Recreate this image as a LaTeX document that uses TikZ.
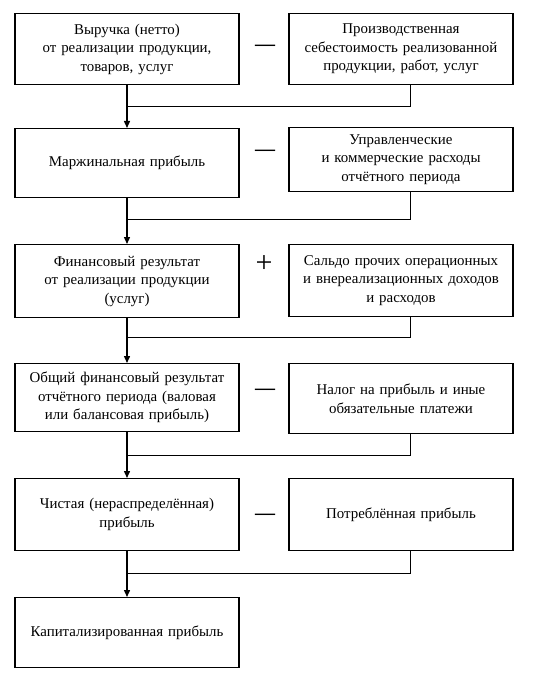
\documentclass[tikz,border=0pt]{standalone}
\usepackage{fontspec}
\setmainfont{Liberation Serif}
\usepackage{tikz}
\usetikzlibrary{
  arrows.meta,
  positioning,
  calc,
}
\definecolor{lineInk}{HTML}{000000}
\tikzset{
  stepbox/.style={
    rectangle, draw=lineInk, line width=1.3pt, anchor=north,
    minimum width=224pt, text width=216pt, align=center,
    inner sep=4pt, font=\fontsize{14.9}{18.5}\selectfont,
  },
  opsign/.style={
    font=\fontsize{20}{20}\selectfont\bfseries, inner sep=0pt,
  },
  arrowMain/.style={
    -{Triangle[length=7pt,width=6pt]}, line width=1.4pt, draw=lineInk,
  },
  feedLine/.style={
    line width=0.9pt, draw=lineInk,
  },
}

\begin{document}
\begin{tikzpicture}[x=1pt, y=-1pt]
\useasboundingbox (0,0) rectangle (548,679);
% left column
\node[stepbox, minimum height=71pt] (rev) at (127,13)
  {Выручка (нетто)\\ от реализации продукции,\\ товаров, услуг};
\node[stepbox, minimum height=69pt] (marg) at (127,128)
  {Маржинальная прибыль};
\node[stepbox, minimum height=73pt] (sales) at (127,244)
  {Финансовый результат\\ от реализации продукции\\ (услуг)};
\node[stepbox, minimum height=68pt] (gross) at (127,363)
  {Общий финансовый результат\\ отчётного периода (валовая\\ или балансовая прибыль)};
\node[stepbox, minimum height=72pt] (net) at (127,478)
  {Чистая (нераспределённая)\\ прибыль};
\node[stepbox, minimum height=70pt] (cap) at (127,597)
  {Капитализированная прибыль};
% right column
\node[stepbox, minimum height=71pt] (cost) at (401,13)
  {Производственная\\ себестоимость реализованной\\ продукции, работ, услуг};
\node[stepbox, minimum height=64pt] (admin) at (401,127)
  {Управленческие\\ и коммерческие расходы\\ отчётного периода};
\node[stepbox, minimum height=72pt] (other) at (401,244)
  {Сальдо прочих операционных\\ и внереализационных доходов\\ и расходов};
\node[stepbox, minimum height=70pt] (tax) at (401,363)
  {Налог на прибыль и иные\\ обязательные платежи};
\node[stepbox, minimum height=72pt] (used) at (401,478)
  {Потреблённая прибыль};
% signs
\node[opsign] (op1) at (265,48) {---};
\node[opsign] (op2) at (265,153) {---};
\node[opsign, font=\fontsize{30}{30}\selectfont] (op3) at (264,264) {+};
\node[opsign] (op4) at (265,392) {---};
\node[opsign] (op5) at (265,517) {---};
% junctions
\coordinate (j1) at (127,106);
\coordinate (j2) at (127,219);
\coordinate (j3) at (127,337);
\coordinate (j4) at (127,455);
\coordinate (j5) at (127,573);
% connectors
\draw[arrowMain] (rev) -- (marg);
\draw[arrowMain] (marg) -- (sales);
\draw[arrowMain] (sales) -- (gross);
\draw[arrowMain] (gross) -- (net);
\draw[arrowMain] (net) -- (cap);
\draw[feedLine] ([xshift=9pt]cost.south) |- (j1);
\draw[feedLine] ([xshift=9pt]admin.south) |- (j2);
\draw[feedLine] ([xshift=9pt]other.south) |- (j3);
\draw[feedLine] ([xshift=9pt]tax.south) |- (j4);
\draw[feedLine] ([xshift=9pt]used.south) |- (j5);
\end{tikzpicture}
\end{document}
